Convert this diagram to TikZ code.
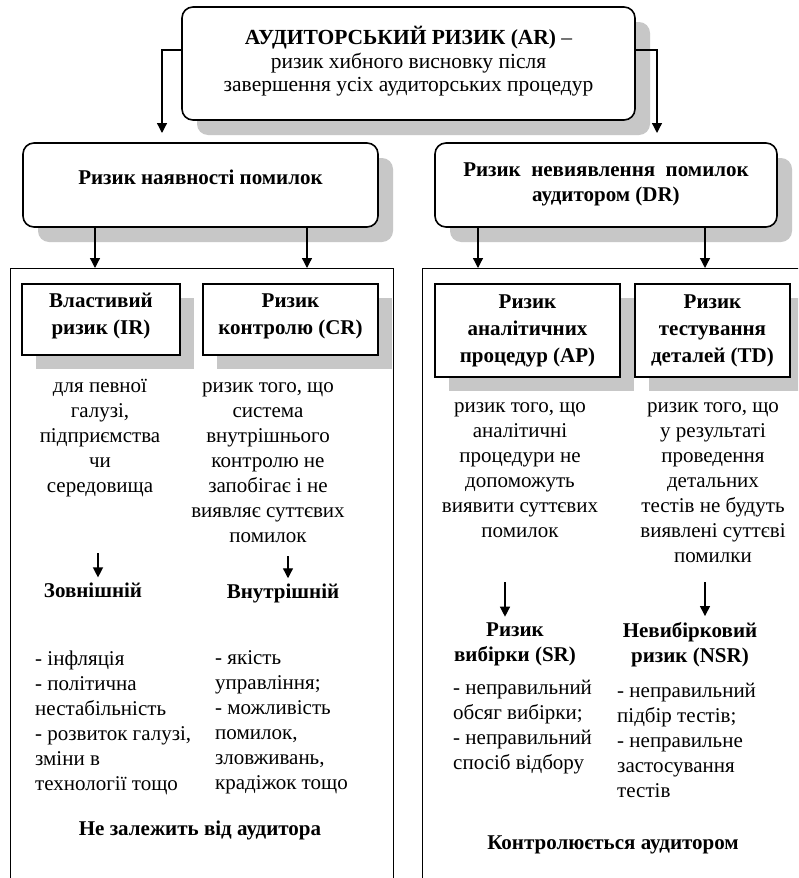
\documentclass[tikz,border=0pt]{standalone}
\usepackage{fontspec}
\setmainfont{Liberation Serif}
\usetikzlibrary{arrows.meta,shadows,positioning}

\tikzset{
	arr/.style={-{Triangle[length=10pt,width=10pt]},line width=1.3pt},
	mainbox/.style={draw,line width=1.6pt,rounded corners=11pt,fill=white,
		drop shadow={shadow xshift=15pt,shadow yshift=-15pt,fill=black!22,opacity=1}},
	riskbox/.style={draw,line width=1.6pt,fill=white,
		drop shadow={shadow xshift=14pt,shadow yshift=-14pt,fill=black!22,opacity=1}},
	bigframe/.style={draw,line width=1.3pt,anchor=north west,inner sep=0pt},
	ttl/.style={font=\bfseries\fontsize{21}{27}\selectfont,align=center,inner sep=0pt},
	txt/.style={font=\fontsize{21}{25}\selectfont,align=center,inner sep=0pt},
	lst/.style={font=\fontsize{21}{25}\selectfont,align=left,anchor=west,inner sep=0pt}
}

\begin{document}
\begin{tikzpicture}[x=1pt,y=-1pt]
\clip (0,0) rectangle (798,878);
\fill[white] (0,0) rectangle (798,878);

\node[mainbox,minimum width=453pt,minimum height=113pt] (ar) at (408.5,63.5) {};
\node[txt,font=\fontsize{21.5}{23.5}\selectfont] (artxt) at (408.5,61.5) {\textbf{АУДИТОРСЬКИЙ РИЗИК (AR)} –\\ризик хибного висновку після\\завершення усіх аудиторських процедур};

\node[mainbox,minimum width=355pt,minimum height=84pt] (ier) at (200.5,185) {};
\node[ttl] (iertxt) at (200.5,177) {Ризик наявності помилок};
\node[mainbox,minimum width=342pt,minimum height=84pt] (dr) at (606,185) {};
\node[ttl,font=\bfseries\fontsize{21}{25}\selectfont] (drtxt) at (606,184.5) {Ризик\ \ невиявлення\ \ помилок\\аудитором (DR)};

\coordinate (ier-in) at (162,133);
\coordinate (dr-in) at (657,133);
\draw[arr] ([yshift=13.5pt]ar.west) -| (ier-in);
\draw[arr] ([yshift=13.5pt]ar.east) -| (dr-in);

\node[bigframe,minimum width=383pt,minimum height=620pt] (lframe) at (10,268) {};
\node[bigframe,minimum width=385pt,minimum height=620pt] (rframe) at (422,268) {};

\draw[arr] ([xshift=-105.5pt]ier.south) -- ([xshift=-105.5pt]ier.south |- lframe.north);
\draw[arr] ([xshift=106.5pt]ier.south) -- ([xshift=106.5pt]ier.south |- lframe.north);
\draw[arr] ([xshift=-128pt]dr.south) -- ([xshift=-128pt]dr.south |- rframe.north);
\draw[arr] ([xshift=99pt]dr.south) -- ([xshift=99pt]dr.south |- rframe.north);

\node[riskbox,minimum width=158pt,minimum height=71pt] (ir) at (101,319.5) {};
\node[ttl] (irttl) at (101,316.5) {Властивий\\ризик (IR)};
\node[riskbox,minimum width=175pt,minimum height=71pt] (cr) at (290.5,319.5) {};
\node[ttl] (crttl) at (290.5,316.5) {Ризик\\контролю (CR)};
\node[riskbox,minimum width=185pt,minimum height=93pt] (ap) at (527.5,330.5) {};
\node[ttl] (apttl) at (527.5,331) {Ризик\\аналітичних\\процедур (AP)};
\node[riskbox,minimum width=155pt,minimum height=93pt] (td) at (712.5,330.5) {};
\node[ttl] (tdttl) at (712.5,331) {Ризик\\тестування\\деталей (TD)};

\node[txt] (irtxt) at (100,438) {для певної\\галузі,\\підприємства\\чи\\середовища};
\node[txt] (crtxt) at (268,463) {ризик того, що\\система\\внутрішнього\\контролю не\\запобігає і не\\виявляє суттєвих\\помилок};
\node[txt] (aptxt) at (520,470.5) {ризик того, що\\аналітичні\\процедури не\\допоможуть\\виявити суттєвих\\помилок};
\node[txt] (tdtxt) at (713,483) {ризик того, що\\у результаті\\проведення\\детальних\\тестів не будуть\\виявлені суттєві\\помилки};

\node[ttl] (ext) at (93,590) {Зовнішній};
\node[ttl] (int) at (283,593) {Внутрішній};
\node[ttl,font=\bfseries\fontsize{21}{25}\selectfont] (sr) at (515,644.5) {Ризик\\вибірки (SR)};
\node[ttl,font=\bfseries\fontsize{21}{25}\selectfont] (nsr) at (690,644.5) {Невибірковий\\ризик (NSR)};

\coordinate (ext-in) at (98,553);
\coordinate (int-in) at (288,556);
\coordinate (sr-in) at (505,582);
\coordinate (nsr-in) at (705,582);
\draw[arr,shorten >=5pt] (ext-in) -- (ext-in |- ext.north);
\draw[arr,shorten >=5pt] (int-in) -- (int-in |- int.north);
\draw[arr,shorten >=6pt] (sr-in) -- (sr-in |- sr.north);
\draw[arr,shorten >=6pt] (nsr-in) -- (nsr-in |- nsr.north);

\node[lst] (extlst) at (35,722.5) {- інфляція\\- політична\\нестабільність\\- розвиток галузі,\\зміни в\\технології тощо};
\node[lst] (intlst) at (215,722.5) {- якість\\управління;\\- можливість\\помилок,\\зловживань,\\крадіжок тощо};
\node[lst] (srlst) at (453,727.5) {- неправильний\\обсяг вибірки;\\- неправильний\\спосіб відбору};
\node[lst] (nsrlst) at (617,740) {- неправильний\\підбір тестів;\\- неправильне\\застосування\\тестів};

\node[ttl] (indep) at (200,830) {Не залежить від аудитора};
\node[ttl] (ctrl) at (613,845) {Контролюється аудитором};
\end{tikzpicture}
\end{document}
